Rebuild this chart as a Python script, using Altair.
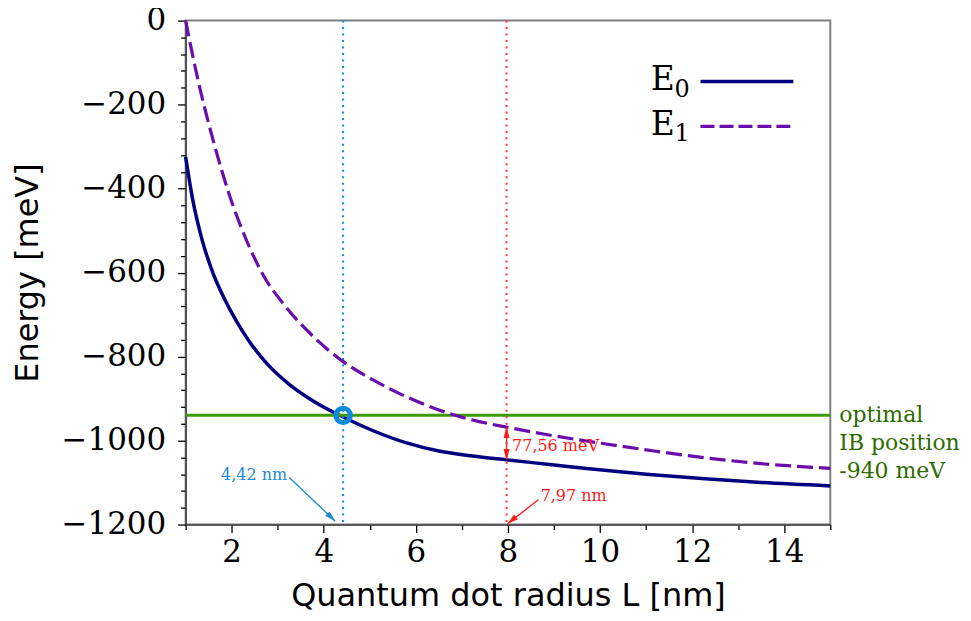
import altair as alt
import pandas as pd

# ---- data ----
L_E0 = [1.0, 1.16, 1.34, 1.59, 1.81, 2.1, 2.39, 2.75, 3.25, 3.76, 4.42, 5.06, 5.78,
        6.5, 7.23, 7.97, 9.0, 9.76, 11.0, 12.28, 13.5, 15.0]
E0 = [-325, -430, -515, -600, -655, -715, -765, -815, -866, -905, -944, -976, -1005,
      -1025, -1037, -1046, -1058, -1067, -1080, -1091, -1100, -1108]

L_E1 = [1.0, 1.17, 1.34, 1.5, 1.63, 1.95, 2.31, 2.68, 3.18, 3.76, 4.42, 5.06, 5.78,
        6.5, 7.23, 7.97, 8.8, 9.76, 11.0, 12.28, 13.5, 15.0]
E1 = [0, -92, -175, -245, -298, -415, -520, -605, -682, -751, -812, -855, -895,
      -927, -951, -968, -985, -1002, -1022, -1041, -1055, -1066]

IB_LEVEL = -940
L_OPT = 4.42
L_GAP = 7.97
GAP_TOP = -968
GAP_BOTTOM = -1046

X_TICKS = [1 + 0.5 * i for i in range(29)]
Y_TICKS = [-40 * i for i in range(31)]

# annotation texts and arrows (data coordinates)
ANN_TEXT = ["4,42 nm", "7,97 nm", "77,56 meV"]
ANN_X = [1.77, 8.71, 8.09]
ANN_Y = [-1093, -1145, -1026]
ANN_COLOR = ["#1a8ad4", "#ff1a1a", "#ff1a1a"]

ARR_X = [3.25, 8.66, L_GAP]
ARR_Y = [-1088, -1141, GAP_TOP]
ARR_X2 = [4.25, 7.99, L_GAP]
ARR_Y2 = [-1192, -1198, GAP_BOTTOM]
ARR_COLOR = ["#1a8ad4", "#ff1a1a", "#ff1a1a"]

HEAD_X = [4.25, 7.99, L_GAP, L_GAP]
HEAD_Y = [-1192, -1198, GAP_TOP, GAP_BOTTOM]
HEAD_ANGLE = [134, 231, 0, 180]
HEAD_COLOR = ["#1a8ad4", "#ff1a1a", "#ff1a1a", "#ff1a1a"]

NAVY = "#000080"
PURPLE = "#6a0dad"
GREEN = "#3c9a0e"
BLUE = "#0d8bd9"
RED = "#ff3333"
DASH = [16, 6]

df0 = pd.DataFrame({"x": L_E0, "y": E0})
df1 = pd.DataFrame({"x": L_E1, "y": E1})
ann = pd.DataFrame({"x": ANN_X, "y": ANN_Y, "text": ANN_TEXT, "color": ANN_COLOR})
arr = pd.DataFrame({"x": ARR_X, "y": ARR_Y, "x2": ARR_X2, "y2": ARR_Y2, "color": ARR_COLOR})
heads = pd.DataFrame({"x": HEAD_X, "y": HEAD_Y, "angle": HEAD_ANGLE, "color": HEAD_COLOR})
pt = pd.DataFrame({"x": [L_OPT], "y": [IB_LEVEL]})
hline = pd.DataFrame({"y": [IB_LEVEL]})
vlines = pd.DataFrame({"x": [L_OPT, L_GAP], "color": [BLUE, RED]})

xs = alt.Scale(domain=[1, 15], nice=False, zero=False)
ys = alt.Scale(domain=[-1200, 0], nice=False, zero=False)

x_axis = alt.Axis(
    values=X_TICKS, format="d", title="Quantum dot radius L [nm]",
    labelExpr="datum.value % 2 === 0 ? datum.label : ''",
    tickSize={"condition": {"test": "datum.value % 2 === 0", "value": 8}, "value": 5},
    labelOverlap=False, labelFlush=False, labelPadding=5, titlePadding=13,
)
y_axis = alt.Axis(
    values=Y_TICKS, format="d", title="Energy [meV]",
    labelExpr="datum.value % 200 === 0 ? datum.label : ''",
    tickSize={"condition": {"test": "datum.value % 200 === 0", "value": 8}, "value": 5},
    labelOverlap=False, labelFlush=False, labelPadding=12, titlePadding=17,
)


def X(field="x"):
    return alt.X(f"{field}:Q", scale=xs, axis=x_axis)


def Y(field="y"):
    return alt.Y(f"{field}:Q", scale=ys, axis=y_axis)


line0 = alt.Chart(df0).mark_line(color=NAVY, strokeWidth=3.5, interpolate="monotone").encode(
    x=X(), y=Y())
line1 = alt.Chart(df1).mark_line(color=PURPLE, strokeWidth=3.2, strokeDash=DASH,
                                 interpolate="monotone").encode(x=X(), y=Y())

ib_rule = alt.Chart(hline).mark_rule(color=GREEN, strokeWidth=3).encode(y=Y())
v_rules = alt.Chart(vlines).mark_rule(strokeWidth=2, strokeDash=[2, 4.5]).encode(
    x=X(), color=alt.Color("color:N", scale=None))

circle = alt.Chart(pt).mark_point(shape="circle", filled=False, size=210, strokeWidth=5,
                                  color=BLUE, opacity=1).encode(x=X(), y=Y())

arrows = alt.Chart(arr).mark_rule(strokeWidth=1.3).encode(
    x=X(), y=Y(), x2="x2:Q", y2="y2:Q",
    color=alt.Color("color:N", scale=None))
arrow_heads = alt.Chart(heads).mark_point(
    shape="M0,0L-0.28,1L0.28,1Z", filled=True, size=480, opacity=1, strokeWidth=0).encode(
    x=X(), y=Y(),
    angle=alt.Angle("angle:Q", scale=None),
    color=alt.Color("color:N", scale=None))
ann_text = alt.Chart(ann).mark_text(align="left", baseline="alphabetic",
                                    font="DejaVu Serif", fontSize=16).encode(
    x=X(), y=Y(), text="text:N",
    color=alt.Color("color:N", scale=None))

ib_text = alt.Chart(hline).mark_text(align="left", baseline="middle", font="DejaVu Serif",
                                     fontSize=22, lineHeight=28, lineBreak="\n",
                                     color="#2e6b00").encode(
    x=alt.value(655), y=Y(),
    text=alt.value("optimal\nIB position\n-940 meV"))

# custom legend
leg_line0 = alt.Chart(hline).mark_rule(color=NAVY, strokeWidth=3.5).encode(
    x=alt.value(516), x2=alt.value(609), y=alt.value(61))
leg_line1 = alt.Chart(hline).mark_rule(color=PURPLE, strokeWidth=3.2, strokeDash=[14, 5]).encode(
    x=alt.value(516), x2=alt.value(609), y=alt.value(106))
leg_E0 = alt.Chart(hline).mark_text(align="left", baseline="alphabetic", font="DejaVu Serif",
                                    fontSize=33, color="black").encode(
    x=alt.value(466), y=alt.value(70), text=alt.value("E"))
leg_E1 = alt.Chart(hline).mark_text(align="left", baseline="alphabetic", font="DejaVu Serif",
                                    fontSize=33, color="black").encode(
    x=alt.value(466), y=alt.value(115), text=alt.value("E"))
leg_s0 = alt.Chart(hline).mark_text(align="left", baseline="alphabetic", font="DejaVu Serif",
                                    fontSize=24, color="black").encode(
    x=alt.value(490), y=alt.value(77), text=alt.value("0"))
leg_s1 = alt.Chart(hline).mark_text(align="left", baseline="alphabetic", font="DejaVu Serif",
                                    fontSize=24, color="black").encode(
    x=alt.value(490), y=alt.value(121), text=alt.value("1"))

chart = alt.layer(
    line0, ib_rule, v_rules, line1, circle, arrows, arrow_heads, ann_text, ib_text,
    leg_line0, leg_line1, leg_E0, leg_E1, leg_s0, leg_s1,
).properties(
    width=646, height=505,
    autosize=alt.AutoSizeParams(type="none"),
    padding={"left": 178, "top": 12, "right": 133, "bottom": 95},
).configure_axis(
    labelFont="DejaVu Serif", labelFontSize=31, labelColor="black",
    titleFont="DejaVu Sans", titleFontSize=32, titleFontWeight="normal", titleColor="black",
    grid=False, tickColor="black", tickWidth=1.3, domainColor="#404040", domainWidth=1.5,
).configure_view(stroke="#808080", strokeWidth=2)

chart.save("out.html", embed_options={"renderer": "svg", "actions": False})
